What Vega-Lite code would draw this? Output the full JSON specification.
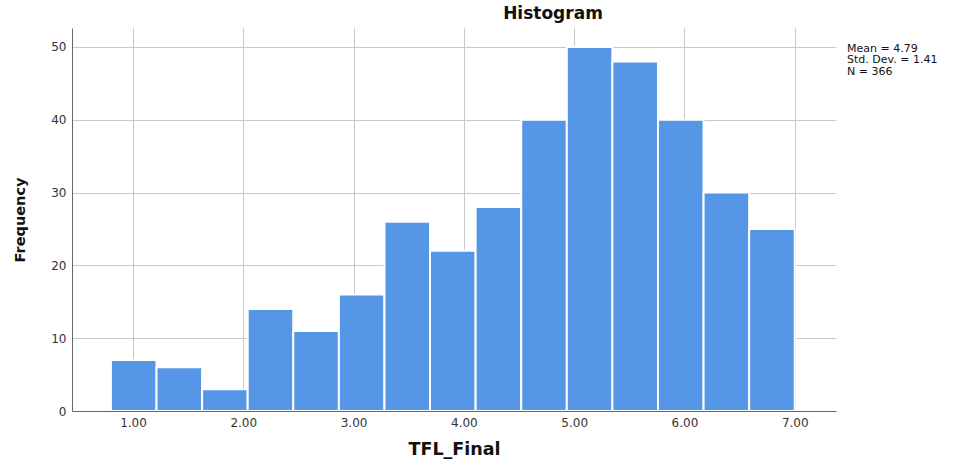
{
  "$schema": "https://vega.github.io/schema/vega-lite/v6.json",
  "autosize": "none",
  "width": 764,
  "height": 383,
  "padding": {"left": 72, "top": 28, "right": 127, "bottom": 51},
  "background": "white",
  "title": {"text": "Histogram", "fontSize": 17, "fontWeight": "bold", "font": "DejaVu Sans", "color": "#111", "anchor": "middle", "dx": 99, "offset": 5},
  "config": {
    "view": {"stroke": null},
    "axis": {"labelFont": "DejaVu Sans", "titleFont": "DejaVu Sans", "labelColor": "#333", "titleColor": "#111", "gridColor": "#c8c8c8", "gridWidth": 1, "domainColor": "#666", "ticks": false, "labelFontSize": 12}
  },
  "resolve": {"axis": {"x": "independent"}},
  "layer": [
    {
      "data": {"values": [
        {"x0": 0.8, "x1": 1.2133, "count": 7},
        {"x0": 1.2133, "x1": 1.6267, "count": 6},
        {"x0": 1.6267, "x1": 2.04, "count": 3},
        {"x0": 2.04, "x1": 2.4533, "count": 14},
        {"x0": 2.4533, "x1": 2.8667, "count": 11},
        {"x0": 2.8667, "x1": 3.28, "count": 16},
        {"x0": 3.28, "x1": 3.6933, "count": 26},
        {"x0": 3.6933, "x1": 4.1067, "count": 22},
        {"x0": 4.1067, "x1": 4.52, "count": 28},
        {"x0": 4.52, "x1": 4.9333, "count": 40},
        {"x0": 4.9333, "x1": 5.3467, "count": 50},
        {"x0": 5.3467, "x1": 5.76, "count": 48},
        {"x0": 5.76, "x1": 6.1733, "count": 40},
        {"x0": 6.1733, "x1": 6.5867, "count": 30},
        {"x0": 6.5867, "x1": 7.0, "count": 25}
      ]},
      "mark": {"type": "rect", "color": "#5596e6", "stroke": "white", "strokeWidth": 2},
      "encoding": {
        "x": {"field": "x0", "type": "quantitative",
              "scale": {"domain": [0.447, 7.374], "nice": false, "zero": false},
              "axis": {"orient": "bottom", "domain": false, "values": [1, 2, 3, 4, 5, 6, 7], "format": ".2f", "title": "TFL_Final", "titleFontSize": 17.5, "titleFontWeight": "bold", "titlePadding": 12, "labelPadding": 6}},
        "x2": {"field": "x1"},
        "y": {"field": "count", "type": "quantitative",
              "scale": {"domain": [0, 52.6], "nice": false},
              "axis": {"values": [0, 10, 20, 30, 40, 50], "title": "Frequency", "titleFontSize": 14.5, "titleFontWeight": "bold", "titlePadding": 23, "labelPadding": 6}},
        "y2": {"datum": 0}
      }
    },
    {
      "data": {"values": [{"label": "stats"}]},
      "mark": {"type": "text", "align": "left", "baseline": "top", "font": "DejaVu Sans", "fontSize": 11, "color": "#111", "lineHeight": 11.5, "clip": false},
      "encoding": {
        "x": {"datum": 7.474, "type": "quantitative",
              "axis": {"orient": "bottom", "domain": true, "grid": false, "labels": false, "title": null, "zindex": 1}},
        "y": {"datum": 50.6},
        "text": {"value": ["Mean = 4.79", "Std. Dev. = 1.41", "N = 366"]}
      }
    }
  ]
}
